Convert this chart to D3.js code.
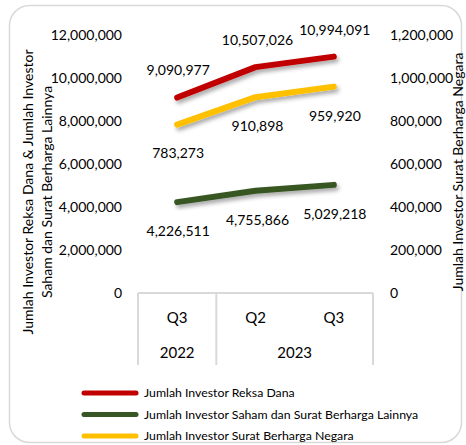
<!DOCTYPE html>
<html><head><meta charset="utf-8">
<script src="https://cdn.jsdelivr.net/npm/d3@7/dist/d3.min.js"></script>
<style>body{margin:0;background:#fff}svg{display:block}text{font-family:Lato,"Open Sans",sans-serif;fill:#000}</style>
</head><body><svg id="c" width="466" height="445"></svg>
<script>
const quarters = ["Q3", "Q2", "Q3"];
const years = ["2022", "2023", "2023"];
const reksaDana = [9090977, 10507026, 10994091];
const saham = [4226511, 4755866, 5029218];
const sbn = [783273, 910898, 959920];
const leftTicks = [0, 2000000, 4000000, 6000000, 8000000, 10000000, 12000000];
const rightTicks = [0, 200000, 400000, 600000, 800000, 1000000, 1200000];
const seriesNames = ["Jumlah Investor Reksa Dana", "Jumlah Investor Saham dan Surat Berharga Lainnya", "Jumlah Investor Surat Berharga Negara"];
const colors = ["#C00000", "#375623", "#FFC000"];

const svg = d3.select("#c");
const fmt = d3.format(",");
const L = 138, R = 373, T = 35, B = 293;

const defs = svg.append("defs");
const f = defs.append("filter").attr("id","sh").attr("x","-20%").attr("y","-50%").attr("width","140%").attr("height","200%");
f.append("feDropShadow").attr("dx",2).attr("dy",3).attr("stdDeviation",2).attr("flood-color","#000").attr("flood-opacity",0.35);

// outer frame
svg.append("rect").attr("x",9.5).attr("y",5.5).attr("width",452).attr("height",437).attr("rx",20)
  .attr("fill","#fff").attr("stroke","#d9d9d9").attr("stroke-width",1.5);

const x = d3.scalePoint().domain(d3.range(quarters.length)).range([L, R]).padding(0.5);
const yL = d3.scaleLinear().domain([0, 12000000]).range([B, T]);
const yR = d3.scaleLinear().domain([0, 1200000]).range([B, T]);

// left axis
const axL = svg.append("g").attr("transform",`translate(${L-16},0)`)
  .call(d3.axisLeft(yL).tickValues(leftTicks).tickFormat(fmt).tickSize(0).tickPadding(0));
axL.select(".domain").remove();
axL.selectAll("text").style("font-size","14px").attr("dy","0.35em");

const axR = svg.append("g").attr("transform",`translate(${R+17},0)`)
  .call(d3.axisRight(yR).tickValues(rightTicks).tickFormat(fmt).tickSize(0).tickPadding(0));
axR.select(".domain").remove();
axR.selectAll("text").style("font-size","14px").attr("dy","0.35em");

// category axis table
const grid = "#d9d9d9";
const step = x.step();
svg.append("line").attr("x1",L).attr("x2",R).attr("y1",B).attr("y2",B).attr("stroke",grid).attr("stroke-width",2);
const bounds = [0];
years.forEach((y,i)=>{ if(i>0 && years[i]!==years[i-1]) bounds.push(i); });
bounds.push(years.length);
bounds.forEach(b=>{
  const xx = b===0 ? L : (b===years.length ? R : x(b) - step/2);
  svg.append("line").attr("x1",xx).attr("x2",xx).attr("y1",B).attr("y2",365).attr("stroke",grid).attr("stroke-width",2);
});
svg.selectAll(".q").data(quarters).join("text").attr("x",(d,i)=>x(i)).attr("y",318).attr("dy","0.35em")
  .attr("text-anchor","middle").style("font-size","15px").text(d=>d);
for(let k=0;k<bounds.length-1;k++){
  const a = bounds[k], b = bounds[k+1]-1;
  svg.append("text").attr("x",(x(a)+x(b))/2).attr("y",353).attr("dy","0.35em").attr("text-anchor","middle")
    .style("font-size","15px").text(years[a]);
}

// axis titles
svg.append("text").attr("transform","translate(28,192) rotate(-90)").attr("text-anchor","middle").attr("dy","0.35em")
  .style("font-size","14px").text("Jumlah Investor Reksa Dana & Jumlah Investor");
svg.append("text").attr("transform","translate(47,192) rotate(-90)").attr("text-anchor","middle").attr("dy","0.35em")
  .style("font-size","14px").text("Saham dan Surat Berharga Lainnya");
svg.append("text").attr("transform","translate(458,172) rotate(-90)").attr("text-anchor","middle").attr("dy","0.35em")
  .style("font-size","14px").text("Jumlah Investor Surat Berharga Negara");

// lines
const series = [
  {vals: reksaDana, y: yL, color: colors[0], off: -27},
  {vals: saham, y: yL, color: colors[1], off: 29},
  {vals: sbn, y: yR, color: colors[2], off: 29}
];
series.forEach(s=>{
  const line = d3.line().x((d,i)=>x(i)).y(d=>s.y(d));
  svg.append("path").datum(s.vals).attr("d",line).attr("fill","none").attr("stroke",s.color)
    .attr("stroke-width",6).attr("stroke-linecap","round").attr("stroke-linejoin","round").attr("filter","url(#sh)");
});
series.forEach(s=>{
  svg.selectAll(null).data(s.vals).join("text").attr("x",(d,i)=>x(i)+(i===1?2:1)).attr("y",d=>s.y(d)+s.off)
    .attr("dy","0.35em").attr("text-anchor","middle").style("font-size","14px").text(d=>fmt(d));
});

// legend
const lg = svg.append("g");
seriesNames.forEach((n,i)=>{
  const yy = 393 + i*21.5;
  lg.append("line").attr("x1",84).attr("x2",136).attr("y1",yy).attr("y2",yy).attr("stroke",colors[i]).attr("stroke-width",5).attr("stroke-linecap","round");
  lg.append("text").attr("x",144).attr("y",yy).attr("dy","0.35em").style("font-size","12.3px").text(n);
});
</script></body></html>
